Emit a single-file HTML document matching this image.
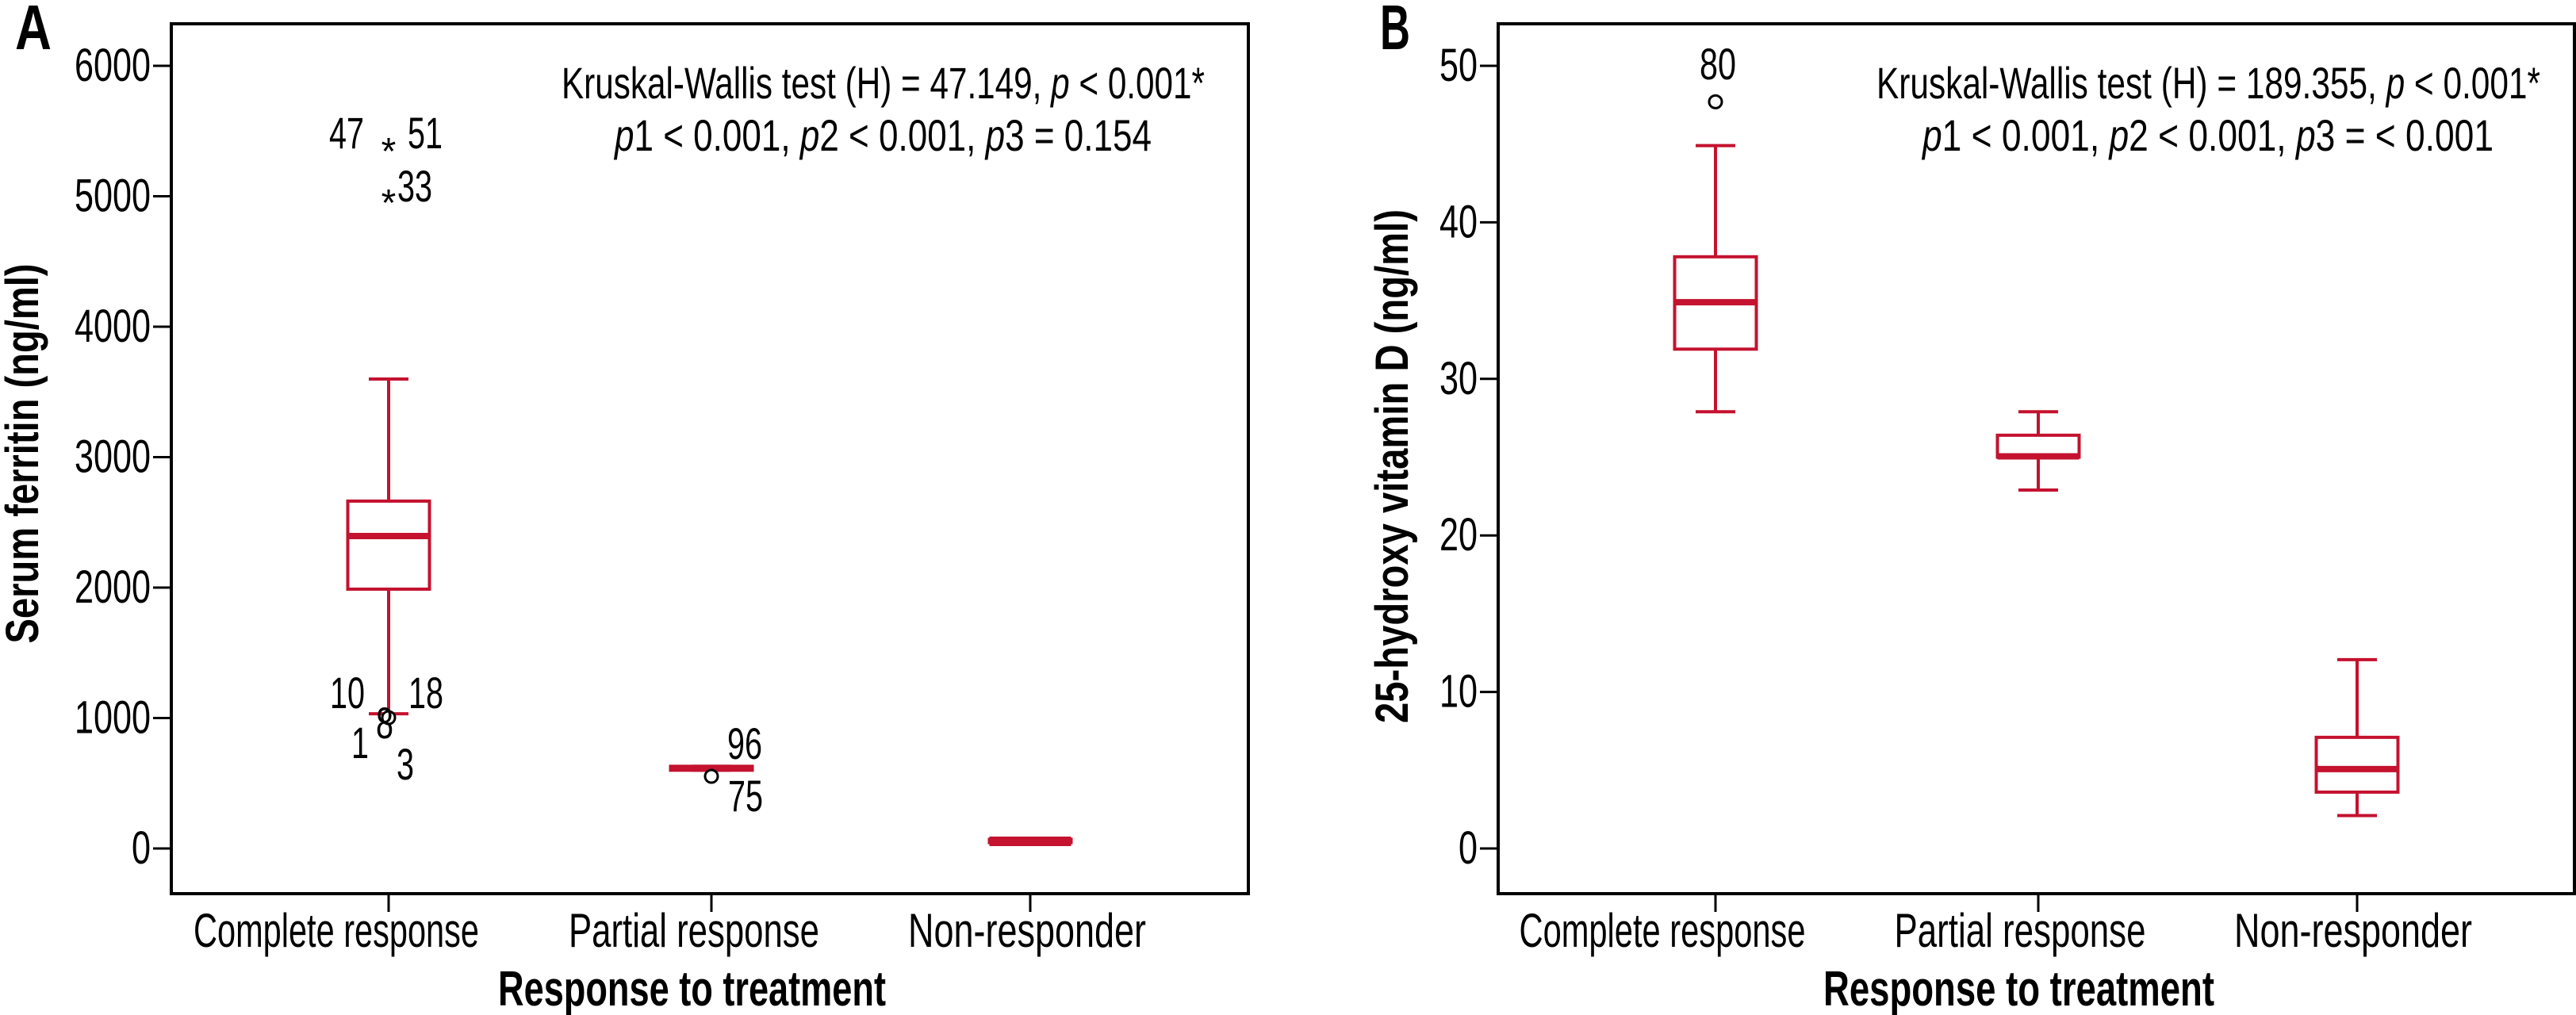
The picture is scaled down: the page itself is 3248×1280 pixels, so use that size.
<!DOCTYPE html>
<html><head><meta charset="utf-8"><style>
html,body{margin:0;padding:0;background:#fff;}
svg{display:block;font-family:"Liberation Sans Narrow","Liberation Sans",sans-serif;}
</style></head><body>
<svg id="chart" width="3248" height="1280" viewBox="0 0 3248 1280" xmlns="http://www.w3.org/2000/svg"></svg>
<script>
const categories = ["Complete response","Partial response","Non-responder"];
// Panel A: serum ferritin
const ferritinTicks = [0,1000,2000,3000,4000,5000,6000];
const ferritinQ1 = [1988, 600, 45];
const ferritinQ3 = [2663, 630, 70];
const ferritinMedian = [2395, 608, 55];
const ferritinLow = [1033, 600, 45];
const ferritinHigh = [3599, 630, 70];
const ferritinCircles = [[0,1003],[1,553]];
const ferritinStars = [[0,5380],[0,4985]];
// Panel B: vitamin D
const vitdTicks = [0,10,20,30,40,50];
const vitdQ1 = [31.9, 25.0, 3.6];
const vitdQ3 = [37.8, 26.4, 7.1];
const vitdMedian = [34.9, 25.05, 5.07];
const vitdLow = [27.9, 22.9, 2.1];
const vitdHigh = [44.9, 27.9, 12.06];
const vitdCircles = [[0,47.7]];

const NS="http://www.w3.org/2000/svg";
const svg=document.getElementById('chart');
const RED="#c4122f";
function el(tag,attrs,parent){const e=document.createElementNS(NS,tag);for(const k in attrs)e.setAttribute(k,attrs[k]);(parent||svg).appendChild(e);return e;}
function txt(s,attrs,parent){const e=el('text',attrs,parent);e.textContent=s;return e;}

function panel(cfg){
  const g=el('g',{});
  
  
  const y=v=>cfg.y0+(v-cfg.vmin)/(cfg.vmax-cfg.vmin)*(cfg.y1-cfg.y0);
  const fr=el('rect',{x:cfg.left,y:30,width:cfg.right-cfg.left,height:1097,fill:'none',stroke:'#000','stroke-width':4},g);
  
  
  cfg.ticks.forEach(t=>{
    const l=el('line',{x1:cfg.left-23,x2:cfg.left,y1:y(t),y2:y(t),stroke:'#000','stroke-width':3},g);
    
    
    const s=String(t);
    const tt=txt(s,{x:cfg.left-26,y:y(t)+19,'text-anchor':'end','font-size':58,textLength:s.length*24,lengthAdjust:'spacingAndGlyphs'},g);
    
    
  });
  categories.forEach((c,i)=>{
    const x=cfg.cx[i];
    const l=el('line',{x1:x,x2:x,y1:1127,y2:1150,stroke:'#000','stroke-width':3},g);
    
    
    const tt=txt(c,{x:cfg.lx[i],y:1194,'text-anchor':'middle','font-size':60,textLength:cfg.xlw[i],lengthAdjust:'spacingAndGlyphs'},g);
    
    
    const bw=cfg.bw, cw=50;
    const w1=el('line',{x1:x,x2:x,y1:y(cfg.high[i]),y2:y(cfg.q3[i]),stroke:RED,'stroke-width':4},g);
    
    
    const w2=el('line',{x1:x,x2:x,y1:y(cfg.q1[i]),y2:y(cfg.low[i]),stroke:RED,'stroke-width':4},g);
    
    
    const c1=el('line',{x1:x-cw/2,x2:x+cw/2,y1:y(cfg.high[i]),y2:y(cfg.high[i]),stroke:RED,'stroke-width':4},g);
    
    
    const c2=el('line',{x1:x-cw/2,x2:x+cw/2,y1:y(cfg.low[i]),y2:y(cfg.low[i]),stroke:RED,'stroke-width':4},g);
    
    
    const top=y(cfg.q3[i]),bot=y(cfg.q1[i]);
    const b=el('rect',{x:x-bw/2,y:top,width:bw,height:Math.max(bot-top,0.1),fill:'#fff',stroke:RED,'stroke-width':4},g);
    
    
    const m=el('line',{x1:x-bw/2,x2:x+bw/2,y1:y(cfg.med[i]),y2:y(cfg.med[i]),stroke:RED,'stroke-width':cfg.thin&&cfg.thin[i]?cfg.thin[i]:8},g);
    
    
  });
  cfg.circles.forEach(p=>{
    const cc=el('circle',{cx:cfg.cx[p[0]],cy:y(p[1]),r:8,fill:'#fff',stroke:'#000','stroke-width':3},g);
    
    
  });
  (cfg.stars||[]).forEach(p=>{
    const st=txt('*',{x:cfg.cx[p[0]],y:y(p[1])+22,'text-anchor':'middle','font-size':48},g);
    
    
  });
  return {g,y};
}

panel({name:'panel-a',left:216,right:1574,y0:1070,y1:83,vmin:0,vmax:6000,ticks:ferritinTicks,cx:[490,897,1299],lx:[424,875,1295],bw:103,
  xlw:[360,316,300],q1:ferritinQ1,q3:ferritinQ3,med:ferritinMedian,low:ferritinLow,high:ferritinHigh,circles:ferritinCircles,stars:ferritinStars,thin:[0,6,12]});
panel({name:'panel-b',left:1889,right:3246,y0:1070,y1:83,vmin:0,vmax:50,ticks:vitdTicks,cx:[2163,2570,2972],lx:[2096,2547,2967],bw:103,
  xlw:[361,317,300],q1:vitdQ1,q3:vitdQ3,med:vitdMedian,low:vitdLow,high:vitdHigh,circles:vitdCircles});

function label(s,x,yy,opts,name){const t=txt(s,Object.assign({x:x,y:yy,'font-size':56},opts));return t;}
[["47",415,187],["51",514,187],["33",501,254],["10",416,893],["18",515,893],["8",474,931],["1",443,956],["3",500,983],["96",917,957],["75",918,1023]].forEach(d=>label(d[0],d[1],d[2],{textLength:d[0].length*22,lengthAdjust:'spacingAndGlyphs'},'outlier-label'));
label("80",2143,100,{textLength:46,lengthAdjust:'spacingAndGlyphs'},'outlier-label');

function annot(x1,len1,x2,len2,t1,t3){
  const a=txt('',{x:x1,y:124,'font-size':56,textLength:len1,lengthAdjust:'spacingAndGlyphs'});
  
  
  a.innerHTML=t1;
  const b=txt('',{x:x2,y:190,'font-size':56,textLength:len2,lengthAdjust:'spacingAndGlyphs'});
  
  
  b.innerHTML=t3;
}
annot(708,811,775,677,'Kruskal-Wallis test (H) = 47.149, <tspan font-style="italic">p</tspan> &lt; 0.001*','<tspan font-style="italic">p</tspan>1 &lt; 0.001, <tspan font-style="italic">p</tspan>2 &lt; 0.001, <tspan font-style="italic">p</tspan>3 = 0.154');
annot(2366,837,2424,720,'Kruskal-Wallis test (H) = 189.355, <tspan font-style="italic">p</tspan> &lt; 0.001*','<tspan font-style="italic">p</tspan>1 &lt; 0.001, <tspan font-style="italic">p</tspan>2 &lt; 0.001, <tspan font-style="italic">p</tspan>3 = &lt; 0.001');

label("Response to treatment",628,1268,{'font-size':62,'font-weight':'bold',textLength:489,lengthAdjust:'spacingAndGlyphs'},'x-axis-title');
label("Response to treatment",2299,1268,{'font-size':62,'font-weight':'bold',textLength:493,lengthAdjust:'spacingAndGlyphs'},'x-axis-title');
label("Serum ferritin (ng/ml)",0,0,{'font-size':58,'font-weight':'bold','text-anchor':'middle',transform:'translate(48,572) rotate(-90)',textLength:479,lengthAdjust:'spacingAndGlyphs'},'y-axis-title');
label("25-hydroxy vitamin D (ng/ml)",0,0,{'font-size':58,'font-weight':'bold','text-anchor':'middle',transform:'translate(1775,588) rotate(-90)',textLength:648,lengthAdjust:'spacingAndGlyphs'},'y-axis-title');
label("A",19,62,{'font-size':80,'font-weight':'bold',textLength:46,lengthAdjust:'spacingAndGlyphs'},'panel-label-a');
label("B",1740,62,{'font-size':80,'font-weight':'bold',textLength:38,lengthAdjust:'spacingAndGlyphs'},'panel-label-b');
</script>
</body></html>
